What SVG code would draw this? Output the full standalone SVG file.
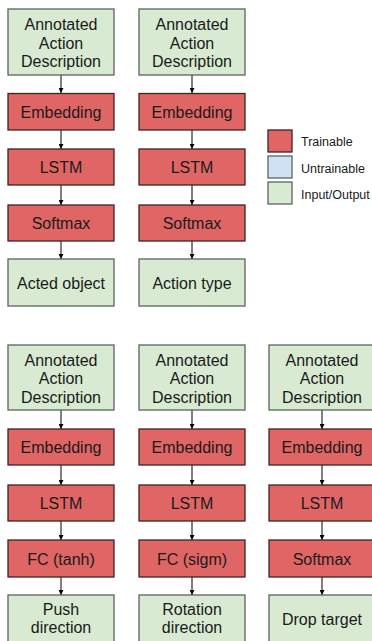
<svg xmlns="http://www.w3.org/2000/svg" width="372" height="641" viewBox="0 0 372 641">
<defs>
<style>
.io{fill:#d9ead3;stroke:#5f635e;stroke-width:1.3}
.tr{fill:#e06666;stroke:#3d2626;stroke-width:1.3}
.un{fill:#cfe2f3;stroke:#5f6366;stroke-width:1.3}
text{font-family:"Liberation Sans",Arial,sans-serif;font-size:16px;fill:#1a1a1a;text-anchor:middle}
.lg{font-size:12.5px;text-anchor:start}
.c{stroke:#000;stroke-width:1;fill:none;marker-end:url(#ah)}
</style>
<marker id="ah" viewBox="0 0 6 6" refX="6" refY="3" markerWidth="5" markerHeight="5" orient="auto" markerUnits="userSpaceOnUse">
<path d="M0,0 L6,3 L0,6 z" fill="#000"/>
</marker>
</defs>
<rect width="372" height="641" fill="#fff"/>

<g id="connectors">
<line class="c" x1="61" y1="75" x2="61" y2="93"/>
<line class="c" x1="61" y1="130" x2="61" y2="149"/>
<line class="c" x1="61" y1="185" x2="61" y2="205"/>
<line class="c" x1="61" y1="241" x2="61" y2="259"/>
<line class="c" x1="192" y1="75" x2="192" y2="93"/>
<line class="c" x1="192" y1="130" x2="192" y2="149"/>
<line class="c" x1="192" y1="185" x2="192" y2="205"/>
<line class="c" x1="192" y1="241" x2="192" y2="259"/>
<line class="c" x1="61" y1="410" x2="61" y2="429"/>
<line class="c" x1="61" y1="465" x2="61" y2="485"/>
<line class="c" x1="61" y1="521" x2="61" y2="540"/>
<line class="c" x1="61" y1="577" x2="61" y2="595"/>
<line class="c" x1="192" y1="410" x2="192" y2="429"/>
<line class="c" x1="192" y1="465" x2="192" y2="485"/>
<line class="c" x1="192" y1="521" x2="192" y2="540"/>
<line class="c" x1="192" y1="577" x2="192" y2="595"/>
<line class="c" x1="322" y1="410" x2="322" y2="429"/>
<line class="c" x1="322" y1="465" x2="322" y2="485"/>
<line class="c" x1="322" y1="521" x2="322" y2="540"/>
<line class="c" x1="322" y1="577" x2="322" y2="595"/>
</g>

<!-- Top row, column 1 -->
<g id="in1"><rect class="io" x="8" y="9" width="106" height="66"/><text x="61" y="30">Annotated</text><text x="61" y="48.5">Action</text><text x="61" y="67">Description</text></g>
<g id="emb1"><rect class="tr" x="8" y="93.5" width="106" height="36.5"/><text x="61" y="117.5">Embedding</text></g>
<g id="lstm1"><rect class="tr" x="8" y="149" width="106" height="36"/><text x="61" y="173">LSTM</text></g>
<g id="soft1"><rect class="tr" x="8" y="205" width="106" height="36"/><text x="61" y="229">Softmax</text></g>
<g id="out1"><rect class="io" x="8" y="259" width="106" height="47"/><text x="61" y="288.5">Acted object</text></g>

<!-- Top row, column 2 -->
<g id="in2"><rect class="io" x="139" y="9" width="106" height="66"/><text x="192" y="30">Annotated</text><text x="192" y="48.5">Action</text><text x="192" y="67">Description</text></g>
<g id="emb2"><rect class="tr" x="139" y="93.5" width="106" height="36.5"/><text x="192" y="117.5">Embedding</text></g>
<g id="lstm2"><rect class="tr" x="139" y="149" width="106" height="36"/><text x="192" y="173">LSTM</text></g>
<g id="soft2"><rect class="tr" x="139" y="205" width="106" height="36"/><text x="192" y="229">Softmax</text></g>
<g id="out2"><rect class="io" x="139" y="259" width="106" height="47"/><text x="192" y="288.5">Action type</text></g>

<!-- Legend -->
<g id="legend">
<rect class="tr" x="268" y="130" width="24" height="22"/><text class="lg" x="301" y="146">Trainable</text>
<rect class="un" x="268" y="156" width="24" height="22"/><text class="lg" x="301" y="172.5">Untrainable</text>
<rect class="io" x="268" y="182" width="24" height="22"/><text class="lg" x="301" y="198.5">Input/Output</text>
</g>

<!-- Bottom row, column 1 -->
<g id="in3"><rect class="io" x="8" y="345" width="106" height="65"/><text x="61" y="365.5">Annotated</text><text x="61" y="384">Action</text><text x="61" y="402.5">Description</text></g>
<g id="emb3"><rect class="tr" x="8" y="429" width="106" height="36"/><text x="61" y="453">Embedding</text></g>
<g id="lstm3"><rect class="tr" x="8" y="485" width="106" height="36"/><text x="61" y="509">LSTM</text></g>
<g id="fc3"><rect class="tr" x="8" y="540" width="106" height="37"/><text x="61" y="564.5">FC (tanh)</text></g>
<g id="out3"><rect class="io" x="8" y="595" width="106" height="66"/><text x="61" y="615">Push</text><text x="61" y="633">direction</text></g>

<!-- Bottom row, column 2 -->
<g id="in4"><rect class="io" x="139" y="345" width="106" height="65"/><text x="192" y="365.5">Annotated</text><text x="192" y="384">Action</text><text x="192" y="402.5">Description</text></g>
<g id="emb4"><rect class="tr" x="139" y="429" width="106" height="36"/><text x="192" y="453">Embedding</text></g>
<g id="lstm4"><rect class="tr" x="139" y="485" width="106" height="36"/><text x="192" y="509">LSTM</text></g>
<g id="fc4"><rect class="tr" x="139" y="540" width="106" height="37"/><text x="192" y="564.5">FC (sigm)</text></g>
<g id="out4"><rect class="io" x="139" y="595" width="106" height="66"/><text x="192" y="615">Rotation</text><text x="192" y="633">direction</text></g>

<!-- Bottom row, column 3 -->
<g id="in5"><rect class="io" x="269" y="345" width="106" height="65"/><text x="322" y="365.5">Annotated</text><text x="322" y="384">Action</text><text x="322" y="402.5">Description</text></g>
<g id="emb5"><rect class="tr" x="269" y="429" width="106" height="36"/><text x="322" y="453">Embedding</text></g>
<g id="lstm5"><rect class="tr" x="269" y="485" width="106" height="36"/><text x="322" y="509">LSTM</text></g>
<g id="soft5"><rect class="tr" x="269" y="540" width="106" height="37"/><text x="322" y="564.5">Softmax</text></g>
<g id="out5"><rect class="io" x="269" y="595" width="106" height="66"/><text x="322" y="624.5">Drop target</text></g>
</svg>
